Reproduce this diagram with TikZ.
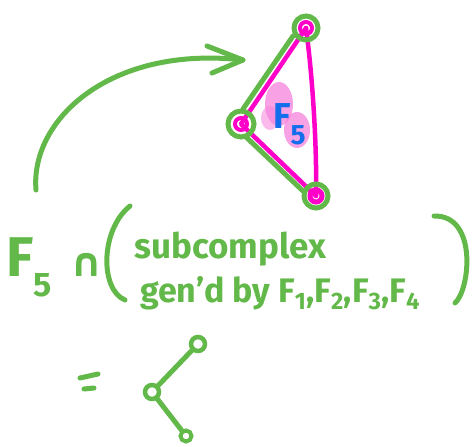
\documentclass[tikz,border=0pt]{standalone}
\usepackage{fontspec}
\setmainfont{Fira Sans}
\newfontfamily\symf{DejaVu Sans}
\usetikzlibrary{arrows.meta}
\definecolor{pgreen}{RGB}{98,184,72}
\definecolor{pmag}{RGB}{255,0,200}
\definecolor{ppink}{RGB}{245,130,220}
\definecolor{pblue}{RGB}{20,110,235}
\tikzset{
  gline/.style={draw=pgreen,line width=5pt,line cap=round,line join=round},
  mline/.style={draw=pmag,line width=4.5pt,line cap=round,line join=round},
  gtext/.style={text=pgreen,inner sep=0pt,anchor=base west},
  vtx/.style={circle,draw=pgreen,line width=5pt,inner sep=0pt},
}
\begin{document}
\begin{tikzpicture}[x=1pt,y=-1pt]
\useasboundingbox (0,0) rectangle (474,447);
% pink blobs
\fill[ppink,opacity=0.75] (279,104) ellipse (14 and 22);
\fill[ppink,opacity=0.75] (297,130) ellipse (13 and 18);
\fill[ppink,opacity=0.55] (270,118) ellipse (9 and 12);
% triangle vertices
\coordinate (T) at (306,28);
\coordinate (L) at (241,124);
\coordinate (B) at (316,196);
% magenta edges
\draw[mline] (T) -- (L) -- (B);
\draw[mline] (T) .. controls (313,80) and (317,150) .. (B);
\draw[pmag,line width=4pt] (T) circle (6);
\draw[pmag,line width=4pt] (L) circle (6);
\draw[pmag,line width=5pt] (B) circle (6);
% green overlay edges, beside the magenta ones
\draw[gline] (293,36) -- (243,109);
\draw[gline] (246,137) -- (303,191);
\node[vtx,minimum size=24pt] (vT) at (T) {};
\node[vtx,minimum size=26pt] (vL) at (L) {};
\node[vtx,minimum size=24pt] (vB) at (B) {};
% F5 label
\node[text=pblue,font=\fontsize{36}{36}\selectfont\bfseries,inner sep=0pt,anchor=base west] (f5) at (273,128) {F\raisebox{-16pt}{\fontsize{28}{28}\selectfont 5}};
% arrow
\coordinate (a0) at (36,190);
\coordinate (a1) at (243,60);
\draw[gline] (a0) .. controls (30,120) and (110,45) .. (a1);
\draw[gline] (207,46) -- (a1) -- (212,73);
% text
\node[gtext,font=\fontsize{56}{56}\selectfont\bfseries] (F5) at (6,276) {F\raisebox{-20pt}{\fontsize{34}{34}\selectfont 5}};
\node[gtext,font=\fontsize{40}{40}\selectfont\symf\bfseries] (cap) at (70,276) {∩};
\node[gtext,font=\fontsize{35}{35}\selectfont\bfseries] (sub) at (134,258) {subcomplex};
\node[gtext,font=\fontsize{34}{34}\selectfont\bfseries] (gen) at (140,302) {gen'd by F\textsubscript{1},F\textsubscript{2},F\textsubscript{3},F\textsubscript{4}};
\draw[gline] (130,206) .. controls (100,230) and (100,290) .. (125,300);
\draw[gline] (434,216) .. controls (478,215) and (470,290) .. (455,303);
% equals
\draw[gline] (80,378) -- (98,374);
\draw[gline] (84,389) -- (94,388);
% small graph
\coordinate (g1) at (198,344);
\coordinate (g2) at (152,392);
\coordinate (g3) at (186,436);
\draw[gline] (g1) -- (g2) -- (g3);
\node[vtx,line width=4.5pt,minimum size=14pt,fill=white] (n1) at (g1) {};
\node[vtx,line width=4.5pt,minimum size=14pt,fill=white] (n2) at (g2) {};
\node[vtx,line width=4pt,minimum size=11pt,fill=white] (n3) at (g3) {};
\end{tikzpicture}
\end{document}
